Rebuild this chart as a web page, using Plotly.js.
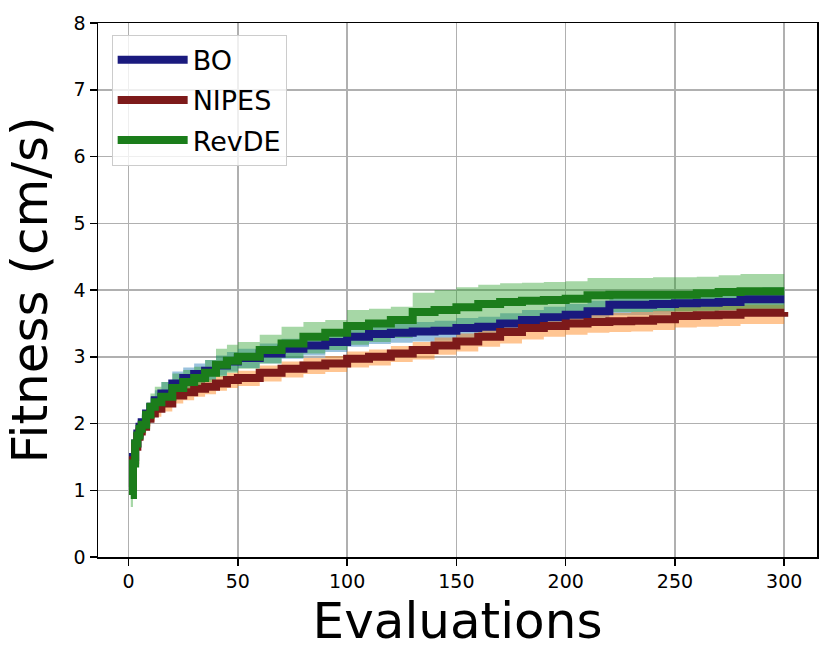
<!DOCTYPE html>
<html><head><meta charset="utf-8">
<script src="https://cdn.plot.ly/plotly-3.0.1.min.js"></script>
<style>html,body{margin:0;padding:0;background:#fff}#chart{width:831px;height:662px}</style>
</head><body><div id="chart"></div><script>
const evaluations = [1,2,3,4,5,6,8,10,12,15,20,25,30,35,40,45,50,60,70,80,90,100,110,120,130,140,150,160,170,180,190,200,210,220,230,240,250,260,270,280,290,300];

const boMean  = [1.05,1.5,1.7,1.85,1.95,2.02,2.15,2.25,2.35,2.45,2.6,2.68,2.74,2.79,2.87,2.93,2.98,3.05,3.12,3.17,3.22,3.3,3.34,3.36,3.38,3.39,3.43,3.45,3.5,3.55,3.59,3.63,3.68,3.78,3.78,3.79,3.8,3.81,3.82,3.86,3.86,3.86];
const boUpper = [1.1,1.6,1.82,1.97,2.07,2.15,2.3,2.4,2.5,2.62,2.78,2.84,2.9,2.95,3.02,3.07,3.12,3.2,3.27,3.32,3.37,3.44,3.48,3.5,3.52,3.54,3.58,3.6,3.65,3.7,3.75,3.79,3.84,3.93,3.93,3.94,3.95,3.96,3.97,4.03,4.04,4.05];
const boLower = [1.0,1.38,1.58,1.72,1.82,1.88,2.0,2.1,2.2,2.3,2.45,2.53,2.6,2.65,2.72,2.78,2.83,2.9,2.97,3.02,3.07,3.15,3.19,3.21,3.23,3.24,3.28,3.3,3.35,3.4,3.44,3.48,3.53,3.62,3.62,3.63,3.64,3.65,3.66,3.7,3.7,3.7];

const nipesMean  = [1.05,1.45,1.65,1.8,1.88,1.95,2.07,2.15,2.22,2.3,2.42,2.47,2.52,2.55,2.6,2.65,2.68,2.76,2.82,2.87,2.9,2.97,3.0,3.05,3.1,3.17,3.23,3.3,3.37,3.43,3.46,3.5,3.52,3.53,3.54,3.56,3.61,3.62,3.63,3.66,3.66,3.67];
const nipesUpper = [1.1,1.55,1.75,1.9,1.98,2.05,2.17,2.25,2.32,2.4,2.52,2.57,2.62,2.66,2.71,2.76,2.79,2.87,2.93,2.98,3.01,3.08,3.11,3.16,3.22,3.29,3.35,3.42,3.49,3.55,3.58,3.62,3.65,3.66,3.67,3.69,3.74,3.75,3.76,3.78,3.78,3.79];
const nipesLower = [1.0,1.35,1.55,1.7,1.78,1.84,1.95,2.03,2.1,2.18,2.3,2.35,2.4,2.44,2.49,2.53,2.56,2.63,2.69,2.74,2.77,2.84,2.87,2.92,2.96,3.03,3.08,3.15,3.2,3.26,3.3,3.33,3.36,3.37,3.38,3.4,3.44,3.45,3.46,3.49,3.49,3.49];

const revdeMean  = [0.93,1.4,1.7,1.82,1.92,1.98,2.13,2.25,2.32,2.4,2.53,2.62,2.68,2.76,2.88,2.94,3.0,3.1,3.2,3.3,3.36,3.46,3.5,3.55,3.67,3.7,3.74,3.79,3.82,3.84,3.85,3.87,3.92,3.93,3.93,3.93,3.93,3.95,3.97,3.98,3.98,3.98];
const revdeUpper = [1.0,1.6,1.85,1.95,2.05,2.12,2.3,2.45,2.55,2.62,2.75,2.8,2.85,2.95,3.12,3.18,3.22,3.33,3.45,3.52,3.55,3.7,3.72,3.75,3.96,4.0,4.04,4.08,4.1,4.11,4.12,4.13,4.18,4.18,4.18,4.19,4.19,4.2,4.22,4.24,4.24,4.24];
const revdeLower = [0.75,1.25,1.55,1.7,1.8,1.87,2.0,2.12,2.2,2.3,2.42,2.5,2.56,2.62,2.7,2.76,2.82,2.9,2.98,3.05,3.1,3.18,3.22,3.28,3.35,3.4,3.45,3.5,3.54,3.56,3.58,3.6,3.66,3.67,3.67,3.68,3.68,3.69,3.7,3.72,3.72,3.72];

const seriesNames = ['BO','NIPES','RevDE'];
const xTicks = [0,50,100,150,200,250,300];
const yTicks = [0,1,2,3,4,5,6,7,8];

const series = [
  {name: seriesNames[0], mean: boMean, lo: boLower, hi: boUpper, line: '#1a1a7e', fill: 'rgba(31,119,180,0.45)'},
  {name: seriesNames[1], mean: nipesMean, lo: nipesLower, hi: nipesUpper, line: '#7d1a1a', fill: 'rgba(255,127,14,0.45)'},
  {name: seriesNames[2], mean: revdeMean, lo: revdeLower, hi: revdeUpper, line: '#1b7d1b', fill: 'rgba(44,160,44,0.42)'}
];

const traces = [];
series.forEach(s => {
  traces.push({x: evaluations, y: s.lo, type: 'scatter', mode: 'lines', line: {width: 0, shape: 'hv'}, showlegend: false, hoverinfo: 'skip'});
  traces.push({x: evaluations, y: s.hi, type: 'scatter', mode: 'lines', line: {width: 0, shape: 'hv'}, fill: 'tonexty', fillcolor: s.fill, showlegend: false, hoverinfo: 'skip'});
});
series.forEach(s => {
  traces.push({x: evaluations, y: s.mean, type: 'scatter', mode: 'lines', name: s.name, legendgroup: s.name, line: {color: s.line, width: 8, shape: 'hv'}});
});

const font = 'DejaVu Sans, sans-serif';
const layout = {
  width: 831, height: 662,
  margin: {l: 98, r: 14, t: 23, b: 105},
  paper_bgcolor: '#fff', plot_bgcolor: '#fff',
  font: {family: font, color: '#000'},
  showlegend: true,
  legend: {x: 0.019, y: 0.978, xanchor: 'left', yanchor: 'top', bgcolor: 'rgba(255,255,255,0.8)', bordercolor: '#cccccc', borderwidth: 1, font: {family: font, size: 27, color: '#000'}, tracegroupgap: 2, itemwidth: 70},
  xaxis: {
    range: [-14, 315], tickvals: xTicks, ticktext: xTicks.map(String),
    showgrid: true, gridcolor: '#b0b0b0', gridwidth: 1.5, zeroline: false,
    showline: true, linecolor: '#000', linewidth: 1.5, mirror: true,
    ticks: 'outside', ticklen: 7, tickwidth: 1.5, tickcolor: '#000',
    tickfont: {family: font, size: 19, color: '#000'},
    title: {text: 'Evaluations', font: {family: font, size: 50, color: '#000'}, standoff: 8}
  },
  yaxis: {
    range: [0, 8], tickvals: yTicks, ticktext: yTicks.map(String),
    showgrid: true, gridcolor: '#b0b0b0', gridwidth: 1.5, zeroline: false,
    showline: true, linecolor: '#000', linewidth: 1.5, mirror: true,
    ticks: 'outside', ticklen: 7, tickwidth: 1.5, tickcolor: '#000',
    tickfont: {family: font, size: 19, color: '#000'},
    title: {text: 'Fitness (cm/s)', font: {family: font, size: 50, color: '#000'}, standoff: 10}
  }
};

Plotly.newPlot('chart', traces, layout, {displayModeBar: false, staticPlot: true});
</script></body></html>
